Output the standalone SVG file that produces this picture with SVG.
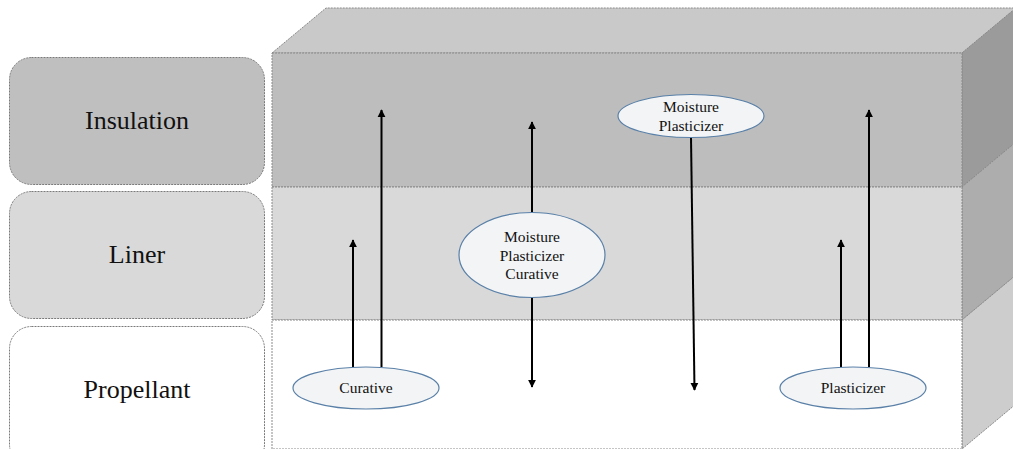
<svg xmlns="http://www.w3.org/2000/svg" width="1013" height="449" viewBox="0 0 1013 449">
<defs>
<marker id="ah" viewBox="0 0 10 10" refX="9" refY="5" markerWidth="4" markerHeight="4.5" orient="auto" markerUnits="strokeWidth">
<path d="M0,0 L10,5 L0,10 z" fill="#000"/>
</marker>
<style>
.edge{stroke:#8a8a8a;stroke-width:1;stroke-dasharray:2 1}
.lbl{stroke:#7a7a7a;stroke-width:1;stroke-dasharray:2 1}
.big{font-family:'Liberation Serif','Times New Roman',serif;font-size:26px;fill:#111;text-anchor:middle}
.sm{font-family:'Liberation Serif','Times New Roman',serif;font-size:15.5px;fill:#111;text-anchor:middle}
.ell{fill:#f2f4f5;stroke:#5a80a8;stroke-width:1.2}
.arr{stroke:#000;stroke-width:2;fill:none;marker-end:url(#ah)}
</style>
</defs>
<rect width="1013" height="449" fill="#fff"/>
<g id="block">
<polygon points="272,53 326,8 1016,8 962,53" fill="#c9c9c9" class="edge"/>
<polygon points="962,53 1016,8 1016,142 962,187" fill="#9b9b9b" class="edge"/>
<polygon points="962,187 1016,142 1016,275 962,320" fill="#adadad" class="edge"/>
<polygon points="962,320 1016,275 1016,404 962,449" fill="#cdcdcd" class="edge"/>
<rect x="272" y="53" width="690" height="134" fill="#bdbdbd" class="edge"/>
<rect x="272" y="187" width="690" height="133" fill="#d9d9d9" class="edge"/>
<rect x="272" y="320" width="690" height="129" fill="#ffffff" class="edge"/>
</g>
<g id="insulation">
<rect x="9.5" y="57.5" width="255" height="127" rx="22" fill="#bfbfbf" class="lbl"/>
<text x="137" y="129" class="big">Insulation</text>
</g>
<g id="liner">
<rect x="9.5" y="191.5" width="255" height="127" rx="22" fill="#d9d9d9" class="lbl"/>
<text x="137" y="263" class="big">Liner</text>
</g>
<g id="propellant">
<rect x="9.5" y="326.5" width="255" height="140" rx="22" fill="#ffffff" class="lbl"/>
<text x="137" y="398" class="big">Propellant</text>
</g>
<g id="connectors">
<line x1="353" y1="367" x2="353" y2="240" class="arr"/>
<line x1="381.5" y1="367" x2="381.5" y2="110" class="arr"/>
<line x1="532" y1="212" x2="532" y2="122" class="arr"/>
<line x1="532" y1="297" x2="532" y2="387" class="arr"/>
<line x1="691" y1="137" x2="694.5" y2="390" class="arr"/>
<line x1="841" y1="367" x2="841" y2="240" class="arr"/>
<line x1="869" y1="367" x2="869" y2="110" class="arr"/>
</g>
<g id="moisture-plasticizer-top">
<ellipse cx="691" cy="116" rx="73" ry="21.5" class="ell"/>
<text x="691" y="112" class="sm">Moisture</text>
<text x="691" y="131" class="sm">Plasticizer</text>
</g>
<g id="moisture-plasticizer-curative">
<ellipse cx="532" cy="255" rx="73" ry="42.5" class="ell"/>
<text x="532" y="242" class="sm">Moisture</text>
<text x="532" y="261" class="sm">Plasticizer</text>
<text x="532" y="279" class="sm">Curative</text>
</g>
<g id="curative">
<ellipse cx="366" cy="388" rx="73" ry="21" class="ell"/>
<text x="366" y="393" class="sm">Curative</text>
</g>
<g id="plasticizer">
<ellipse cx="853" cy="388" rx="73" ry="21" class="ell"/>
<text x="853" y="393" class="sm">Plasticizer</text>
</g>
</svg>
